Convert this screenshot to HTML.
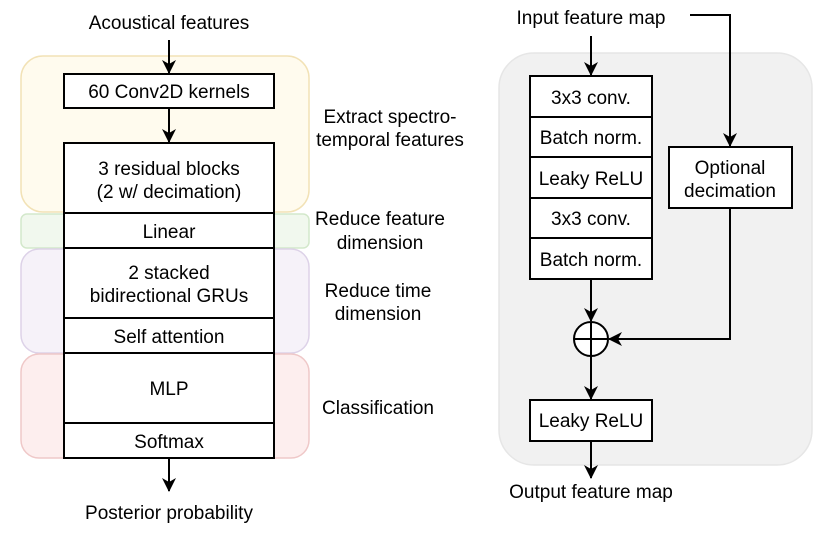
<!DOCTYPE html>
<html><head><style>body{margin:0;background:#fff}svg{display:block}text{font-family:"Liberation Sans",Arial,sans-serif;font-size:19px}</style></head><body>
<svg width="831" height="539" viewBox="0 0 831 539">
<defs><marker id="a" markerWidth="14" markerHeight="14" refX="13" refY="7" orient="auto" markerUnits="userSpaceOnUse"><path d="M0,0 L14,7 L0,14 L4,7 z" fill="#000"/></marker></defs>
<rect x="21" y="56" width="288" height="156" rx="22" fill="#fffbee" stroke="#f2e2b6" stroke-width="1.5"/>
<rect x="21" y="214" width="288" height="34" rx="6" fill="#f1f8ee" stroke="#d3e8cb" stroke-width="1.5"/>
<rect x="21" y="249" width="288" height="104" rx="18" fill="#f6f2f9" stroke="#ddd2e8" stroke-width="1.5"/>
<rect x="21" y="354" width="288" height="104" rx="18" fill="#fdeeee" stroke="#efc8c8" stroke-width="1.5"/>
<g fill="#fff" stroke="#000" stroke-width="2">
<rect x="64" y="74" width="210" height="34"/>
<rect x="64" y="143" width="210" height="70"/>
<rect x="64" y="213" width="210" height="35"/>
<rect x="64" y="248" width="210" height="70"/>
<rect x="64" y="318" width="210" height="35"/>
<rect x="64" y="353" width="210" height="70"/>
<rect x="64" y="423" width="210" height="35"/>
</g>
<g stroke="#000" stroke-width="2">
<line x1="169" y1="40" x2="169" y2="73" marker-end="url(#a)"/>
<line x1="169" y1="108" x2="169" y2="142" marker-end="url(#a)"/>
<line x1="169" y1="458" x2="169" y2="491" marker-end="url(#a)"/>
</g>
<g text-anchor="middle">
<text x="169" y="29">Acoustical features</text>
<text x="169" y="98">60 Conv2D kernels</text>
<text x="169" y="175">3 residual blocks</text>
<text x="169" y="198">(2 w/ decimation)</text>
<text x="169" y="238">Linear</text>
<text x="169" y="279">2 stacked</text>
<text x="169" y="302">bidirectional GRUs</text>
<text x="169" y="343">Self attention</text>
<text x="169" y="395">MLP</text>
<text x="169" y="448">Softmax</text>
<text x="169" y="519">Posterior probability</text>
<text x="390" y="123">Extract spectro-</text>
<text x="390" y="146">temporal features</text>
<text x="380" y="225">Reduce feature</text>
<text x="380" y="249">dimension</text>
<text x="378" y="297">Reduce time</text>
<text x="378" y="320">dimension</text>
<text x="378" y="414">Classification</text>
</g>
<rect x="499" y="53" width="313" height="412" rx="35" fill="#f1f1f1" stroke="#e6e6e6" stroke-width="1.5"/>
<g fill="#fff" stroke="#000" stroke-width="2">
<rect x="530" y="76" width="122" height="41"/>
<rect x="530" y="117" width="122" height="40"/>
<rect x="530" y="157" width="122" height="41"/>
<rect x="530" y="198" width="122" height="40"/>
<rect x="530" y="238" width="122" height="41"/>
<rect x="669" y="147" width="123" height="61"/>
<rect x="530" y="400" width="122" height="41"/>
<circle cx="591" cy="339" r="17"/>
</g>
<g stroke="#000" stroke-width="2" fill="none">
<line x1="574" y1="339" x2="608" y2="339"/><line x1="591" y1="322" x2="591" y2="356"/>
<line x1="591" y1="36" x2="591" y2="75" marker-end="url(#a)"/>
<polyline points="690,15 730,15 730,146" marker-end="url(#a)"/>
<line x1="591" y1="279" x2="591" y2="321" marker-end="url(#a)"/>
<polyline points="730,208 730,339 609,339" marker-end="url(#a)"/>
<line x1="591" y1="356" x2="591" y2="399" marker-end="url(#a)"/>
<line x1="591" y1="441" x2="591" y2="478" marker-end="url(#a)"/>
</g>
<g text-anchor="middle">
<text x="591" y="24">Input feature map</text>
<text x="591" y="104">3x3 conv.</text>
<text x="591" y="144">Batch norm.</text>
<text x="591" y="185">Leaky ReLU</text>
<text x="591" y="225">3x3 conv.</text>
<text x="591" y="266">Batch norm.</text>
<text x="730" y="174">Optional</text>
<text x="730" y="197">decimation</text>
<text x="591" y="427">Leaky ReLU</text>
<text x="591" y="498">Output feature map</text>
</g>
</svg>
</body></html>
